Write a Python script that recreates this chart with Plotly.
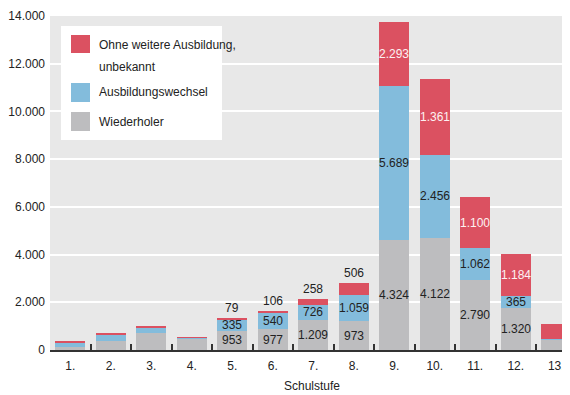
import plotly.graph_objects as go

# ---- data ----
categories = ["1.", "2.", "3.", "4.", "5.", "6.", "7.", "8.", "9.", "10.", "11.", "12.", "13."]
# bar heights as drawn in the picture
wiederholer = [125, 380, 710, 475, 800, 880, 1260, 1215, 4610, 4700, 2930, 1760, 420]
wechsel = [170, 250, 210, 40, 460, 685, 630, 1090, 6450, 3470, 1340, 500, 40]
ohne = [80, 85, 100, 30, 100, 85, 250, 515, 2680, 3185, 2140, 1760, 630]
# printed value labels
lbl_wiederholer = [None, None, None, None, 953, 977, 1209, 973, 4324, 4122, 2790, 1320, None]
lbl_wechsel = [None, None, None, None, 335, 540, 726, 1059, 5689, 2456, 1062, 365, None]
lbl_ohne = [None, None, None, None, 79, 106, 258, 506, 2293, 1361, 1100, 1184, None]
y_ticks = [0, 2000, 4000, 6000, 8000, 10000, 12000, 14000]
legend_names = ["Ohne weitere Ausbildung,", "unbekannt", "Ausbildungswechsel", "Wiederholer"]
x_title = "Schulstufe"

# ---- style ----
FONT = "Liberation Sans, Arial, sans-serif"
FS = 12
C_RED = "#db5161"
C_BLUE = "#83bcdc"
C_GRAY = "#bdbdbf"
TXT = "#222222"

# page has an 8px body margin; compensate so the plot area sits at page x 50..570, y 16..350
OFF = 8
W, H = 570 - OFF, 395 - OFF
ML, MR, MT, MB = 50 - OFF, 0, 16 - OFF, 395 - 350
PL, PR, PT, PB = 50, 570, 16, 350  # plot area in page pixels


def px(x):
    return (x - PL) / (PR - PL)


def py(y):
    return (PB - y) / (PB - PT)


def fmt(v):
    return f"{v:,}".replace(",", ".")


fig = go.Figure()
for name, vals, col in [("Wiederholer", wiederholer, C_GRAY),
                        ("Ausbildungswechsel", wechsel, C_BLUE),
                        ("Ohne weitere Ausbildung, unbekannt", ohne, C_RED)]:
    fig.add_trace(go.Bar(x=categories, y=vals, name=name, marker=dict(color=col, line=dict(width=0)),
                         showlegend=False, hoverinfo="skip"))

annotations = []
lab_font = dict(family=FONT, size=FS, color=TXT)
for i, cat in enumerate(categories):
    base1 = wiederholer[i]
    base2 = wiederholer[i] + wechsel[i]
    top = base2 + ohne[i]
    if lbl_wiederholer[i] is not None:
        annotations.append(dict(x=i, y=base1 / 2, text=fmt(lbl_wiederholer[i]), showarrow=False, font=lab_font))
    if lbl_wechsel[i] is not None:
        annotations.append(dict(x=i, y=(base1 + base2) / 2, text=fmt(lbl_wechsel[i]), showarrow=False,
                                font=lab_font))
    if lbl_ohne[i] is not None:
        if ohne[i] < 1000:
            annotations.append(dict(x=i, y=top, text=fmt(lbl_ohne[i]), showarrow=False, yanchor="bottom",
                                    yshift=1, font=lab_font))
        else:
            annotations.append(dict(x=i, y=(base2 + top) / 2, text=fmt(lbl_ohne[i]), showarrow=False,
                                    font=dict(family=FONT, size=FS, color="#fdf1f2")))

# manual legend
shapes = [dict(type="rect", xref="paper", yref="paper", x0=px(61), x1=px(222), y0=py(140), y1=py(26),
               fillcolor="white", line=dict(width=0), layer="above")]
for (y0, y1), col in zip([(35, 53), (83, 102), (112, 131)], [C_RED, C_BLUE, C_GRAY]):
    shapes.append(dict(type="rect", xref="paper", yref="paper", x0=px(71), x1=px(90), y0=py(y1), y1=py(y0),
                       fillcolor=col, line=dict(width=0), layer="above"))
for text, yc in zip(legend_names, [45, 67, 92, 122]):
    annotations.append(dict(xref="paper", yref="paper", x=px(97), y=py(yc), text=text, showarrow=False,
                            xanchor="left", yanchor="middle", font=dict(family=FONT, size=FS, color=TXT)))
# axis title
annotations.append(dict(xref="paper", yref="paper", x=px(312), y=py(386), text=x_title, showarrow=False,
                        xanchor="center", yanchor="middle", font=dict(family=FONT, size=FS, color=TXT)))

fig.update_layout(
    width=W, height=H,
    margin=dict(l=ML, r=MR, t=MT, b=MB, pad=0),
    paper_bgcolor="white", plot_bgcolor="#e8e8e8",
    barmode="stack", bargap=0.26,
    separators=",.",
    font=dict(family=FONT, size=FS, color=TXT),
    shapes=shapes, annotations=annotations,
    showlegend=False,
)
fig.update_xaxes(
    type="category", range=[-0.5, -0.5 + (PR - PL) / 40.5], automargin=False,
    showline=True, linecolor="#333333", linewidth=1.5,
    ticks="inside", tickson="boundaries", ticklen=6, tickwidth=1.5, tickcolor="#333333",
    showgrid=False, tickfont=dict(family=FONT, size=FS, color=TXT), ticklabelstandoff=4,
)
fig.update_yaxes(
    range=[0, 14000], tickvals=y_ticks, tickformat=",.0f", automargin=False,
    showgrid=True, gridcolor="white", gridwidth=1.5, zeroline=False, showline=False,
    tickfont=dict(family=FONT, size=FS, color=TXT), ticklabelstandoff=4,
)
fig.write_html("out.html")
